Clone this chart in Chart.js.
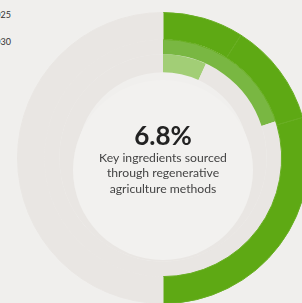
<!DOCTYPE html>
<html>
<head>
<meta charset="utf-8">
<script src="https://cdn.jsdelivr.net/npm/chart.js@4"></script>
<style>
  html, body { margin: 0; padding: 0; width: 302px; height: 303px; overflow: hidden; background: #f0efed; }
  #wrap { position: absolute; left: 17px; top: 12px; width: 292px; height: 292px; }
  .leg { position: absolute; left: -40px; width: 51px; text-align: right; font: 9px Lato, sans-serif; color: #333; line-height: 10px; }
</style>
</head>
<body>
<div id="leg1" class="leg" style="top:10px"></div>
<div id="leg2" class="leg" style="top:37px"></div>
<div id="wrap"><canvas id="ringChart"></canvas></div>
<script>
// legend years (cut off at the left edge of the picture)
const legendLabels = ['2025', '2030'];
// rings, inner to outer
const currentShare = [6.8, 93.2];
const share2025 = [20, 80];
const share2030 = [9, 11.5, 29.5, 50];
const centerValue = '6.8%';
const centerLines = ['Key ingredients sourced', 'through regenerative', 'agriculture methods'];

document.getElementById('leg1').textContent = legendLabels[0];
document.getElementById('leg2').textContent = legendLabels[1];

const grey = '#e9e6e3';

// lighter inner disc, sitting a little below the ring centre, then the centre text
const centerText = {
    id: 'centerText',
    afterDatasetsDraw(chart) {
        const c = chart.ctx;
        const x = (chart.chartArea.left + chart.chartArea.right) / 2;
        const y = (chart.chartArea.top + chart.chartArea.bottom) / 2;
        c.save();
        c.beginPath();
        c.arc(x, y + 12, 90, 0, Math.PI * 2);
        c.fillStyle = '#f2f1ef';
        c.fill();
        c.textAlign = 'center';
        c.textBaseline = 'middle';
        c.fillStyle = '#222';
        c.font = 'bold 26px Lato, sans-serif';
        c.fillText(centerValue, x, y - 21);
        c.fillStyle = '#444';
        c.font = '12.2px Lato, sans-serif';
        centerLines.forEach(function (line, i) {
            c.fillText(line, x, y + i * 15.5);
        });
        c.restore();
    }
};

const ctx = document.getElementById('ringChart').getContext('2d');
const ringChart = new Chart(ctx, {
    type: 'doughnut',
    data: {
        datasets: [{
            label: '2030',
            data: share2030,
            backgroundColor: ['#5ea914', '#5ea914', '#5ea914', grey],
            borderColor: ['#68ae22', '#68ae22', '#68ae22', grey],
            borderWidth: 1,
            weight: 27
        }, {
            label: '2025',
            data: share2025,
            backgroundColor: ['#79b742', grey],
            borderWidth: 0,
            weight: 15
        }, {
            label: 'Today',
            data: currentShare,
            backgroundColor: ['#a2ce76', grey],
            borderWidth: 0,
            weight: 18
        }]
    },
    options: {
        responsive: true,
        maintainAspectRatio: false,
        animation: false,
        cutout: '58.9%',
        layout: { padding: 0 },
        plugins: {
            legend: { display: false },
            tooltip: { enabled: false }
        }
    },
    plugins: [centerText]
});
</script>
</body>
</html>
